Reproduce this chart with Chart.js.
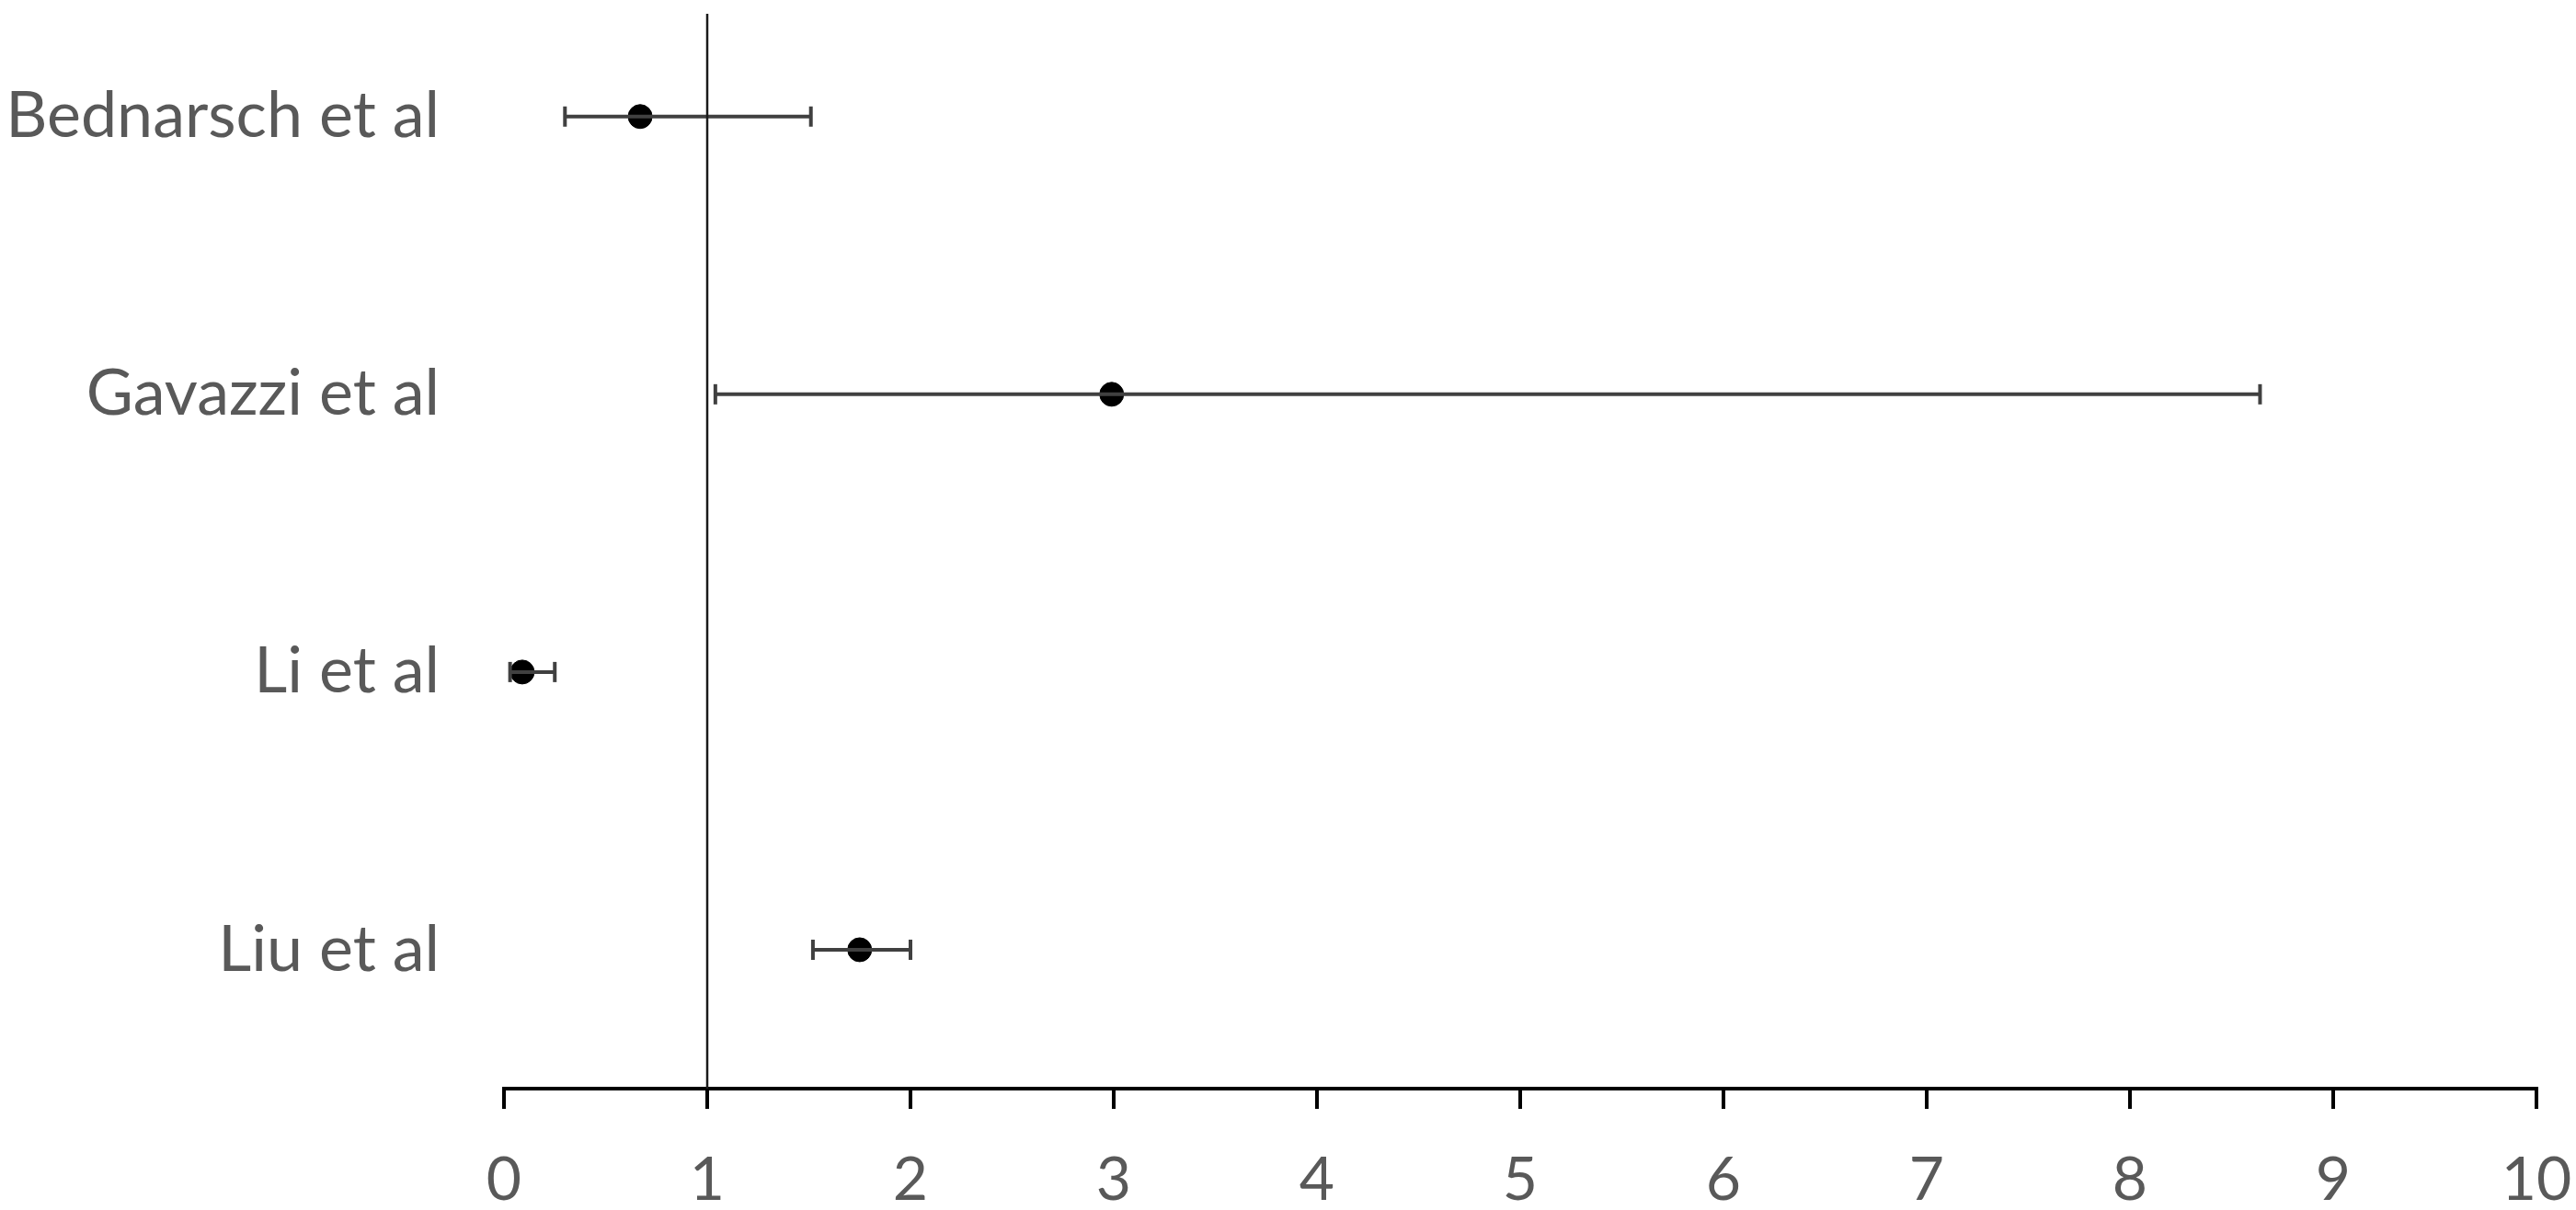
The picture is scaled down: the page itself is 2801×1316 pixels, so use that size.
<!DOCTYPE html>
<html>
<head>
<meta charset="utf-8">
<script src="https://cdn.jsdelivr.net/npm/chart.js@4.4.1/dist/chart.umd.min.js"></script>
<style>
  html, body { margin: 0; padding: 0; background: #fff; }
  #wrap { width: 2801px; height: 1316px; position: relative; }
</style>
</head>
<body>
<div id="wrap"><canvas id="chart-1"></canvas></div>
<script>
const studies = ["Bednarsch et al", "Gavazzi et al", "Li et al", "Liu et al"];
const estimates = [0.67, 2.99, 0.09, 1.75];
const lower = [0.30, 1.04, 0.03, 1.52];
const upper = [1.51, 8.64, 0.25, 2.00];
const refValue = 1;
const xTicks = [0, 1, 2, 3, 4, 5, 6, 7, 8, 9, 10];

const textColor = "#595959";
const family = "Lato, 'Open Sans', sans-serif";

// studies are listed top to bottom, so the first one gets the highest y
const rowOf = i => studies.length - i;
const yMin = 0.5;
const yMax = 4.37;

// keep the label padding from pushing the plot area around
const noPad = axis => {
  axis.paddingTop = 0;
  axis.paddingBottom = 0;
  axis.paddingLeft = 0;
  axis.paddingRight = 0;
};

const whiskers = studies.map((s, i) => ({
  type: "line",
  label: s,
  data: [{ x: lower[i], y: rowOf(i) }, { x: upper[i], y: rowOf(i) }],
  borderColor: "#404040",
  borderWidth: 4,
  pointStyle: "line",
  rotation: 90,
  pointRadius: 11,
  pointBorderWidth: 4,
  pointBorderColor: "#404040",
  pointHoverRadius: 11
}));

window.addEventListener("DOMContentLoaded", () => {
  new Chart(document.getElementById("chart-1"), {
    type: "scatter",
    data: {
      datasets: [
        {
          type: "line",
          label: "ref",
          data: [{ x: refValue, y: yMin }, { x: refValue, y: yMax }],
          borderColor: "#1a1a1a",
          borderWidth: 2.5,
          pointRadius: 0
        },
        ...whiskers,
        {
          label: "estimate",
          data: estimates.map((v, i) => ({ x: v, y: rowOf(i) })),
          backgroundColor: "#000",
          borderColor: "#000",
          pointRadius: 13,
          pointHoverRadius: 13
        }
      ]
    },
    options: {
      responsive: true,
      maintainAspectRatio: false,
      animation: false,
      layout: {
        autoPadding: false,
        padding: { top: 15, right: 43, left: 0, bottom: 0 }
      },
      plugins: {
        legend: { display: false },
        tooltip: { enabled: false }
      },
      scales: {
        x: {
          type: "linear",
          min: 0,
          max: 10,
          afterBuildTicks: axis => { axis.ticks = xTicks.map(v => ({ value: v })); },
          afterFit: axis => { axis.height = 132; noPad(axis); },
          grid: {
            drawOnChartArea: false,
            drawTicks: true,
            tickLength: 22,
            color: "#000",
            lineWidth: 4
          },
          border: { display: true, color: "#000", width: 4 },
          ticks: {
            color: textColor,
            font: { size: 66, family: family },
            padding: 38,
            maxRotation: 0
          }
        },
        y: {
          type: "linear",
          min: yMin,
          max: yMax,
          afterBuildTicks: axis => { axis.ticks = studies.map((s, i) => ({ value: rowOf(i) })); },
          afterFit: axis => { axis.width = 548; noPad(axis); },
          grid: { display: false, drawTicks: false },
          border: { display: false },
          ticks: {
            color: textColor,
            font: { size: 70, family: family },
            padding: 70,
            callback: v => studies[studies.length - v]
          }
        }
      }
    }
  });
});
</script>
</body>
</html>
